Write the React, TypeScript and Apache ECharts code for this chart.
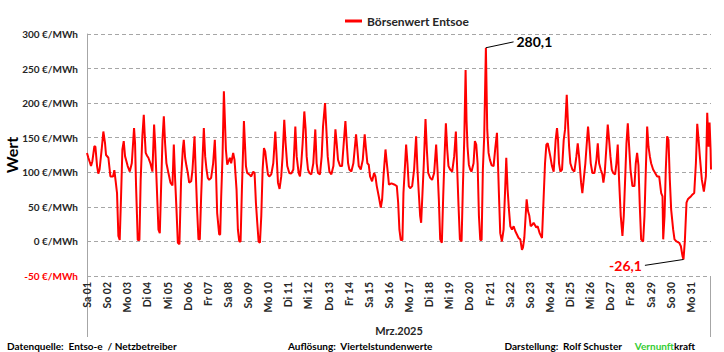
import React, { useEffect, useRef } from "react";
import * as echarts from "echarts";

type Pt = [number, number]; // [hour of day, €/MWh]

const seriesName = "Börsenwert Entsoe";
const monthLabel = "Mrz.2025";
const yAxisName = "Wert";
const unit = "€/MWh";

const dayLabels = [
  "Sa 01", "So 02", "Mo 03", "Di 04", "Mi 05", "Do 06", "Fr 07", "Sa 08", "So 09", "Mo 10",
  "Di 11", "Mi 12", "Do 13", "Fr 14", "Sa 15", "So 16", "Mo 17", "Di 18", "Mi 19", "Do 20",
  "Fr 21", "Sa 22", "So 23", "Mo 24", "Di 25", "Mi 26", "Do 27", "Fr 28", "Sa 29", "So 30", "Mo 31",
];

const week1: Pt[][] = [
  [[0, 128], [1.6, 121], [4.8, 109], [6.4, 116], [8.8, 138], [10, 137], [12, 109], [13.5, 98], [15, 104], [17.5, 133], [19.5, 159], [21.5, 142], [22.7, 125]],
  [[1.5, 121], [3.9, 94], [7, 94], [8.6, 103], [10.2, 87], [11.8, 70], [13.4, 8], [15, 2], [16.6, 65], [18.2, 133], [19.8, 145], [21.4, 123], [23, 116]],
  [[0.5, 109], [3, 101], [5.4, 113], [8.1, 164], [9.3, 142], [10.5, 80], [12.5, 2], [14.5, 2], [16, 89], [18, 152], [19.7, 183], [20.9, 152], [22, 128], [23.6, 124]],
  [[1.2, 121], [3.6, 113], [6, 101], [8, 169], [9.2, 142], [11.2, 80], [13.2, 17], [14.8, 12], [16.4, 80], [18, 147], [19.6, 181], [21.1, 142], [22.7, 113]],
  [[1.1, 99], [3.5, 85], [5.9, 81], [7.5, 140], [9.1, 89], [10.7, 46], [12.3, -2], [14.2, -4], [16.2, 89], [18.2, 133], [19.4, 147], [21, 121], [22.6, 109]],
  [[0.2, 99], [1.8, 85], [4.2, 87], [5.8, 104], [8.2, 152], [9.7, 99], [11.3, 46], [12.9, 3], [14.5, 3], [16.1, 65], [17.7, 118], [19.3, 164], [20.9, 123], [22.5, 104]],
  [[0, 92], [1.7, 89], [4, 92], [6.4, 113], [8.4, 147], [9.6, 109], [11.2, 41], [13.6, 10], [14.8, 10], [16, 65], [17.6, 123], [19.2, 217], [20.4, 176], [21.6, 133], [23.2, 111]],
];

const week2: Pt[][] = [
  [[0.8, 116], [2.3, 121], [3.9, 113], [6.3, 128], [7.9, 118], [10.3, 75], [11.9, 17], [13.5, 0], [15.1, 0], [16.7, 75], [18.3, 140], [19.1, 174], [20.3, 142], [21.5, 109], [23, 99]],
  [[1.4, 97], [3.8, 94], [6.2, 101], [7.8, 99], [9.4, 56], [11, 27], [12.6, 0], [14.2, -2], [15.8, 37], [17.4, 104], [19, 135], [20.5, 130], [22.1, 113], [23.7, 97]],
  [[1.3, 94], [3.7, 97], [6.1, 113], [8.5, 159], [10.1, 123], [11.7, 85], [13.6, 76], [15.6, 94], [17.2, 123], [19.2, 176], [20.8, 142], [22.8, 109]],
  [[1.2, 99], [3.6, 98], [6, 104], [8.4, 166], [10, 123], [12.3, 99], [13.9, 94], [15.5, 113], [17.1, 142], [19.1, 188], [20.7, 162], [21.9, 123], [23.5, 104]],
  [[1.1, 99], [3.5, 97], [5.8, 113], [8.2, 162], [9.8, 113], [11.4, 99], [13.8, 97], [15.8, 123], [17.4, 166], [19.8, 200], [21.4, 162], [23, 123]],
  [[1, 101], [3.4, 97], [5.8, 109], [8.2, 162], [9.7, 142], [11.3, 118], [13.7, 109], [16.1, 109], [18.1, 142], [20.1, 174], [21.7, 142], [23.3, 113]],
  [[0.8, 104], [3.2, 101], [5.6, 113], [8.8, 155], [10.4, 133], [12, 109], [14.4, 104], [16.8, 118], [19.1, 155], [20.7, 133], [22.3, 113], [23.9, 111]],
];

const week3: Pt[][] = [
  [[1.5, 94], [3.9, 87], [6.3, 99], [7.9, 94], [9.5, 80], [11.9, 65], [14.3, 49], [15.9, 61], [17.5, 94], [19.9, 133], [21.5, 113], [23.1, 94]],
  [[0, 82], [3, 84], [7, 82], [9.4, 80], [11, 56], [12.5, 17], [14.1, 2], [16.1, 2], [17.3, 70], [18.9, 104], [20.5, 140], [22.1, 113], [23.7, 80]],
  [[1.3, 77], [3.7, 80], [6, 104], [8.4, 152], [10, 104], [11.6, 70], [13.2, 37], [14.4, 27], [16, 70], [17.6, 113], [19.6, 177], [21.2, 133], [22.8, 99]],
  [[1.2, 92], [3.5, 89], [5.9, 99], [8.3, 140], [9.9, 104], [11.5, 61], [13.1, 3], [15.1, -2], [16.7, 65], [18.3, 123], [19.9, 171], [21.5, 133], [23, 109]],
  [[1, 104], [3.4, 101], [5.8, 123], [7.8, 159], [9.4, 104], [11, 51], [12.6, 3], [14.6, 0], [16.2, 80], [17.8, 147], [19.4, 248], [20.5, 176], [21.7, 137], [23.3, 111]],
  [[0.9, 104], [2.5, 101], [4.9, 113], [6.5, 145], [8.1, 140], [9.7, 113], [11.3, 37], [12.9, 2], [14.5, 2], [16, 104], [17.6, 152], [19.6, 280.1], [21.2, 162], [22.8, 128]],
  [[0.4, 118], [2.5, 110], [4.8, 109], [6.8, 135], [8.8, 157], [10, 113], [11.1, 70], [12.7, 12], [14.7, 0], [16.7, 17], [18.7, 80], [19.9, 121], [21.5, 75], [23.1, 46]],
];

const week4: Pt[][] = [
  [[0.7, 22], [2.7, 17], [4.7, 22], [6.6, 15], [8.6, 10], [10.6, 5], [12.6, 3], [14.6, -12], [15.8, -9], [17.4, 5], [19, 37], [20.2, 61], [21.8, 44], [23.4, 37]],
  [[1, 22], [3, 24], [4.5, 27], [7.7, 20], [9.3, 22], [11.7, 12], [14.5, 5], [16.5, 65], [18.1, 113], [19.7, 140], [21.3, 142], [22.8, 133]],
  [[0.4, 123], [2.4, 109], [4.4, 101], [6.8, 147], [8.4, 164], [9.6, 147], [10.8, 113], [12.4, 101], [14.4, 104], [16.4, 147], [18, 162], [20, 212], [21.1, 181], [22.8, 137]],
  [[0.3, 113], [2.7, 104], [5.1, 101], [7.5, 123], [9.1, 142], [10.7, 123], [13.1, 85], [14.6, 70], [16.2, 89], [18.2, 113], [20.2, 147], [21.4, 166], [23, 142]],
  [[0.6, 113], [2.6, 99], [5, 99], [7.4, 118], [9, 142], [10.6, 113], [12.5, 104], [14.5, 97], [15.7, 85], [17.3, 99], [19.3, 137], [20.9, 169], [22.5, 147]],
  [[0.1, 123], [1.7, 104], [3.3, 99], [5.7, 97], [7.2, 113], [8.8, 140], [10.4, 89], [12.4, 37], [14.4, 8], [16, 37], [17.6, 89], [19.2, 142], [20.8, 171], [22.4, 137]],
  [[0, 104], [2.3, 80], [4.7, 80], [6.3, 113], [7.9, 128], [9.5, 110], [11.1, 51], [12.7, 3], [15.1, 0], [16.7, 37], [18.3, 104], [19.9, 166], [21.5, 137], [23.1, 123]],
];

const week5: Pt[][] = [
  [[0.6, 113], [3, 104], [5.4, 99], [7.8, 94], [10.2, 94], [12.6, 70], [14.2, 65], [15, 3], [16.6, 37], [18.1, 104], [19.7, 152], [21.3, 147], [22.9, 89]],
  [[0.5, 46], [2.9, 17], [4.5, 3], [6.9, 0], [10.1, -2], [12.1, -7], [14, -21], [15.2, -26.1], [16.8, 0], [18.8, 56], [20.4, 61], [22, 63]],
  [[0, 65], [2, 68], [4, 70], [6, 113], [7.6, 170], [9.2, 147], [10.7, 123], [13.1, 89], [15.5, 72], [17.9, 94], [19.5, 186], [21.1, 137], [22.3, 172], [23.5, 133], [24, 104]],
];

const footerLeft = "Datenquelle:  Entso-e  / Netzbetreiber";
const footerMid = "Auflösung:  Viertelstundenwerte";
const footerRight = "Darstellung:  Rolf Schuster";
const brandA = "Vernunft";
const brandB = "kraft";

const fmt = (v: number) => v.toFixed(1).replace(".", ",");

export default function App() {
  const ref = useRef<HTMLDivElement>(null);

  useEffect(() => {
    if (!ref.current) return;
    const chart = echarts.init(ref.current, undefined, { renderer: "svg" });

    const allDays = [...week1, ...week2, ...week3, ...week4, ...week5];
    const data: Pt[] = [];
    allDays.forEach((day, i) => day.forEach(([h, v]) => data.push([i * 24 + h, v])));

    let maxP = data[0], minP = data[0];
    data.forEach((p) => {
      if (p[1] > maxP[1]) maxP = p;
      if (p[1] < minP[1]) minP = p;
    });

    const FONT = "Lato";
    const DARK = "#262626";
    const GRID_L = 87, GRID_R = 13, GRID_T = 34, GRID_B = 76;
    const W = 724, H = 352;
    const FOOT_Y = 346;

    const lblPeak = {
      show: true, position: "end", distance: 3, formatter: fmt(maxP[1]),
      color: "#000", fontFamily: FONT, fontWeight: "bold", fontSize: 14,
    };
    const lblMin = {
      show: true, position: "end", distance: 3, formatter: fmt(minP[1]),
      color: "#ff0000", fontFamily: FONT, fontWeight: "bold", fontSize: 14,
    };

    chart.setOption({
      animation: false,
      textStyle: { fontFamily: FONT },
      grid: { left: GRID_L, right: GRID_R, top: GRID_T, bottom: GRID_B, containLabel: false, outerBoundsMode: "none" },
      legend: {
        left: 340, top: 10, itemWidth: 17, itemHeight: 3, icon: "rect", itemGap: 4,
        textStyle: { color: DARK, fontFamily: FONT, fontWeight: "bold", fontSize: 12 },
        data: [seriesName],
      },
      xAxis: {
        type: "value", min: 0, max: dayLabels.length * 24, interval: 24,
        name: monthLabel, nameLocation: "middle", nameGap: 49, nameMoveOverlap: false,
        nameTextStyle: { color: DARK, fontFamily: FONT, fontWeight: "bold", fontSize: 11 },
        axisLine: { show: false }, axisTick: { show: false }, splitLine: { show: false },
        axisLabel: {
          rotate: 90, margin: 6, color: DARK, fontFamily: FONT, fontWeight: "bold", fontSize: 10.5,
          formatter: (v: number) => dayLabels[Math.round(v / 24)] ?? "",
        },
      },
      yAxis: {
        type: "value", min: -50, max: 300, interval: 50,
        name: yAxisName, nameLocation: "middle", nameGap: 68, nameRotate: 90, nameMoveOverlap: false,
        nameTextStyle: { color: "#000", fontFamily: FONT, fontWeight: "bold", fontSize: 16 },
        axisLine: { show: true, lineStyle: { color: "#a6a6a6", width: 1 } },
        axisTick: { show: false },
        splitLine: { show: true, lineStyle: { color: "#a6a6a6", type: [4, 3], width: 1 } },
        axisLabel: {
          margin: 9, fontFamily: FONT, fontWeight: "bold", fontSize: 10,
          formatter: (v: number) => (v < 0 ? `{neg|${v} ${unit}}` : `{pos|${v} ${unit}}`),
          rich: {
            neg: { color: "#ff0000", fontFamily: FONT, fontWeight: "bold", fontSize: 10 },
            pos: { color: DARK, fontFamily: FONT, fontWeight: "bold", fontSize: 10 },
          },
        },
      },
      series: [
        {
          name: seriesName, type: "line", data, showSymbol: false, symbol: "none",
          lineStyle: { color: "#ff0000", width: 2 }, itemStyle: { color: "#ff0000" },
          markLine: {
            silent: true, symbol: ["none", "none"], animation: false,
            data: [
              [
                { yAxis: 0, lineStyle: { color: "#a6a6a6", type: "solid", width: 1 }, label: { show: false } },
                { yAxis: 0 },
              ],
              [
                { coord: [maxP[0], maxP[1]], lineStyle: { color: "#000", type: "solid", width: 1 }, label: lblPeak },
                { coord: [maxP[0] + 33, maxP[1] + 8.5], lineStyle: { color: "#000", type: "solid", width: 1 }, label: lblPeak },
              ],
              [
                { coord: [minP[0], minP[1]], lineStyle: { color: "#000", type: "solid", width: 1 }, label: lblMin },
                { coord: [minP[0] - 46, minP[1] - 8.5], lineStyle: { color: "#000", type: "solid", width: 1 }, label: lblMin },
              ],
            ],
          },
        },
      ],
      graphic: [
        { type: "line", silent: true, shape: { x1: GRID_L + 0.5, y1: H - GRID_B, x2: GRID_L + 0.5, y2: 337 }, style: { stroke: "#a6a6a6", lineWidth: 1 } },
        { type: "line", silent: true, shape: { x1: W - GRID_R - 0.5, y1: H - GRID_B, x2: W - GRID_R - 0.5, y2: 337 }, style: { stroke: "#a6a6a6", lineWidth: 1 } },
        { type: "text", x: 7, y: FOOT_Y, style: { text: footerLeft, fill: "#000", font: `bold 10px ${FONT}`, textAlign: "left", textVerticalAlign: "middle" } },
        { type: "text", x: 288, y: FOOT_Y, style: { text: footerMid, fill: "#000", font: `bold 10px ${FONT}`, textAlign: "left", textVerticalAlign: "middle" } },
        { type: "text", x: 622, y: FOOT_Y, style: { text: footerRight, fill: "#000", font: `bold 10px ${FONT}`, textAlign: "right", textVerticalAlign: "middle" } },
        {
          type: "text", x: 695, y: FOOT_Y,
          style: {
            text: `{g|${brandA}}{k|${brandB}}`, textAlign: "right", textVerticalAlign: "middle",
            rich: {
              g: { fill: "#33cc33", fontFamily: FONT, fontWeight: "bold", fontSize: 10 },
              k: { fill: "#000", fontFamily: FONT, fontWeight: "bold", fontSize: 10 },
            },
          },
        },
      ],
    });

    return () => chart.dispose();
  }, []);

  return (
    <div
      ref={ref}
      style={{ position: "fixed", left: 0, top: 0, width: 724, height: 352, background: "#fff" }}
    />
  );
}
